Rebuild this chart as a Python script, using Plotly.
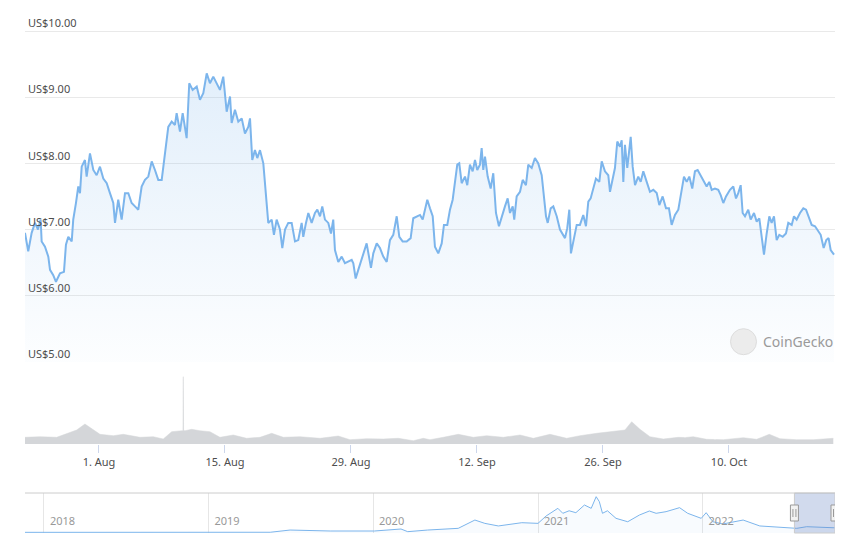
import pandas as pd
import plotly.graph_objects as go

# price in US$, time as days counted from 1 Aug 2022
price_days = [-8.22, -7.86, -7.48, -7.11, -6.78, -6.48, -6.37, -6.00, -5.63, -5.44,
              -5.08, -4.78, -4.33, -3.89, -3.67, -3.41, -3.03, -2.86, -2.56, -2.30,
              -2.11, -1.92, -1.56, -1.37, -1.00, -0.63, -0.26, 0.11, 0.48, 0.86,
              1.22, 1.59, 1.78, 2.14, 2.52, 2.89, 3.26, 3.63, 4.00, 4.37,
              4.74, 5.11, 5.48, 5.86, 6.22, 6.59, 6.97, 7.22, 7.44, 7.70,
              8.08, 8.44, 8.63, 9.00, 9.30, 9.74, 10.03, 10.41, 10.86, 11.22,
              11.59, 11.97, 12.33, 12.70, 13.26, 13.44, 13.81, 14.00, 14.19, 14.56,
              14.74, 15.11, 15.48, 15.86, 16.22, 16.59, 16.78, 17.03, 17.33, 17.59,
              17.89, 18.26, 18.56, 18.81, 19.19, 19.44, 19.74, 20.11, 20.37, 20.67,
              21.03, 21.41, 21.78, 22.14, 22.52, 22.70, 23.00, 23.26, 23.63, 24.00,
              24.26, 24.56, 24.81, 25.11, 25.48, 25.78, 26.03, 26.22, 26.59, 26.97,
              27.33, 27.70, 28.08, 28.26, 28.52, 28.81, 29.19, 29.56, 29.74, 30.00,
              30.22, 30.48, 30.86, 31.22, 31.59, 31.97, 32.33, 32.70, 33.08, 33.37,
              33.74, 34.19, 34.63, 34.92, 35.30, 35.67, 35.97, 36.22, 36.48, 36.78,
              37.08, 37.33, 37.70, 38.08, 38.33, 38.70, 39.00, 39.30, 39.56, 39.81,
              40.03, 40.30, 40.67, 40.92, 41.22, 41.52, 41.78, 42.03, 42.33, 42.52,
              42.70, 42.89, 43.19, 43.52, 43.81, 44.11, 44.44, 44.74, 45.11, 45.41,
              45.67, 45.97, 46.14, 46.41, 46.78, 47.08, 47.44, 47.70, 48.08, 48.44,
              48.81, 49.19, 49.44, 49.67, 49.86, 50.19, 50.48, 50.86, 51.22, 51.52,
              51.78, 52.03, 52.26, 52.44, 52.78, 53.08, 53.44, 53.81, 54.11, 54.37,
              54.63, 54.92, 55.22, 55.59, 55.86, 56.22, 56.59, 56.78, 57.08, 57.33,
              57.59, 57.89, 58.08, 58.26, 58.44, 58.70, 59.08, 59.30, 59.56, 59.92,
              60.19, 60.48, 60.86, 61.22, 61.59, 61.97, 62.26, 62.63, 63.00, 63.33,
              63.63, 64.00, 64.37, 64.67, 65.00, 65.30, 65.59, 65.92, 66.22, 66.52,
              66.86, 67.22, 67.52, 67.81, 68.08, 68.44, 68.81, 69.08, 69.37, 69.67,
              70.11, 70.48, 70.78, 71.03, 71.30, 71.52, 71.78, 72.14, 72.41, 72.78,
              73.08, 73.37, 73.63, 73.89, 74.19, 74.48, 74.74, 75.00, 75.30, 75.59,
              75.97, 76.33, 76.59, 76.97, 77.22, 77.52, 77.89, 78.26, 78.56, 78.92,
              79.19, 79.56, 79.92, 80.19, 80.52, 80.81, 81.07, 81.30, 81.67]
price_usd = [6.95, 6.67, 6.95, 7.10, 7.00, 7.15, 6.82, 6.74, 6.59, 6.39,
             6.31, 6.21, 6.34, 6.36, 6.77, 6.89, 6.82, 7.15, 7.40, 7.65,
             7.55, 7.95, 8.05, 7.80, 8.15, 7.90, 7.82, 7.95, 7.77, 7.70,
             7.55, 7.40, 7.10, 7.45, 7.15, 7.55, 7.55, 7.40, 7.35, 7.30,
             7.65, 7.75, 7.80, 8.03, 7.90, 7.75, 7.75, 8.00, 8.30, 8.55,
             8.63, 8.58, 8.76, 8.48, 8.76, 8.38, 9.21, 9.11, 9.16, 8.96,
             9.06, 9.36, 9.21, 9.31, 9.16, 9.11, 9.31, 9.01, 8.78, 9.01,
             8.61, 8.81, 8.63, 8.68, 8.45, 8.55, 8.68, 8.05, 8.20, 8.08,
             8.20, 8.00, 7.45, 7.10, 7.15, 6.92, 7.15, 7.00, 6.72, 7.00,
             7.10, 7.10, 6.82, 6.84, 7.10, 6.89, 7.10, 7.25, 7.10, 7.25,
             7.30, 7.20, 7.35, 7.15, 7.10, 6.94, 7.15, 6.69, 6.51, 6.59,
             6.49, 6.51, 6.54, 6.49, 6.26, 6.39, 6.57, 6.74, 6.79, 6.59,
             6.42, 6.64, 6.79, 6.72, 6.59, 6.51, 6.84, 6.92, 7.20, 6.89,
             6.82, 6.82, 6.87, 7.17, 7.20, 7.22, 7.15, 7.32, 7.45, 7.32,
             7.20, 6.74, 6.64, 6.79, 7.07, 7.07, 7.30, 7.45, 7.70, 7.98,
             8.00, 7.70, 7.80, 7.67, 7.98, 7.88, 8.05, 7.90, 7.98, 8.23,
             7.90, 8.10, 7.80, 7.62, 7.85, 7.25, 7.05, 7.20, 7.35, 7.47,
             7.25, 7.35, 7.15, 7.50, 7.57, 7.75, 7.67, 7.98, 7.93, 8.08,
             8.00, 7.82, 7.50, 7.20, 7.10, 7.32, 7.35, 7.20, 7.00, 6.92,
             6.87, 7.02, 7.30, 6.64, 6.89, 7.07, 7.07, 7.22, 7.05, 7.42,
             7.47, 7.62, 7.77, 7.72, 8.03, 7.88, 7.82, 7.57, 7.80, 7.93,
             8.33, 8.25, 8.35, 7.72, 8.28, 7.93, 8.40, 7.95, 7.67, 7.80,
             7.72, 7.88, 7.72, 7.57, 7.60, 7.55, 7.37, 7.50, 7.32, 7.32,
             7.07, 7.22, 7.30, 7.57, 7.80, 7.72, 7.80, 7.62, 7.88, 7.90,
             7.82, 7.72, 7.65, 7.72, 7.60, 7.62, 7.60, 7.52, 7.40, 7.50,
             7.60, 7.65, 7.47, 7.55, 7.67, 7.25, 7.20, 7.30, 7.15, 7.25,
             7.12, 7.17, 6.87, 6.62, 6.94, 7.20, 7.10, 7.20, 6.84, 6.92,
             6.89, 6.94, 7.10, 7.07, 7.20, 7.15, 7.25, 7.32, 7.30, 7.17,
             7.07, 7.05, 6.97, 6.92, 6.72, 6.84, 6.87, 6.69, 6.62]

# trading volume, million US$ (same day scale)
vol_days = [-8.22, -6.56, -4.70, -3.59, -2.48, -1.56, -0.81, 0.11, 1.59, 2.70,
            4.56, 6.03, 7.14, 8.08, 9.19, 9.33, 9.37, 9.40, 9.56, 10.30,
            11.22, 12.33, 13.44, 14.92, 16.41, 17.89, 19.19, 20.48, 22.33, 24.56,
            26.59, 27.89, 29.74, 31.59, 33.26, 34.92, 36.03, 36.78, 38.26, 39.92,
            41.59, 43.08, 44.92, 46.78, 48.26, 50.11, 51.97, 53.44, 55.30, 57.14,
            58.44, 59.19, 60.11, 61.22, 62.70, 64.37, 65.06, 65.12, 65.17, 66.03,
            67.52, 68.39, 68.45, 68.50, 69.37, 71.59, 73.08, 74.48, 75.67, 77.52,
            79.37, 81.59]
vol_musd = [6.7, 7.3, 6.7, 10.0, 14.0, 20.0, 15.7, 9.7, 8.3, 9.7,
            6.7, 7.3, 5.0, 12.3, 13.3, 13.3, 67.3, 13.5, 13.3, 14.7,
            13.3, 12.3, 6.7, 9.0, 5.7, 6.7, 10.7, 6.7, 7.3, 5.7,
            8.0, 4.3, 5.3, 5.0, 5.7, 3.3, 5.7, 4.3, 6.7, 9.7,
            6.7, 8.3, 6.7, 9.0, 5.7, 9.7, 5.7, 8.3, 10.7, 12.3,
            14.0, 22.3, 14.7, 7.3, 5.0, 6.7, 6.5, None, 6.5, 7.3,
            4.7, 4.5, None, 4.5, 4.3, 6.3, 4.7, 9.7, 5.3, 4.3,
            4.3, 5.7]

# full history for the navigator
hist_dates = ["2017-11-20", "2018-04-26", "2018-12-06", "2019-05-18", "2019-07-01",
              "2019-09-28", "2020-01-04", "2020-03-03", "2020-03-18", "2020-05-01",
              "2020-07-08", "2020-08-14", "2020-09-05", "2020-10-05", "2020-11-26",
              "2021-01-01", "2021-01-19", "2021-02-14", "2021-02-25", "2021-03-11",
              "2021-03-26", "2021-04-14", "2021-04-29", "2021-05-10", "2021-05-17",
              "2021-05-24", "2021-06-04", "2021-06-23", "2021-07-19", "2021-08-14",
              "2021-09-05", "2021-09-20", "2021-10-12", "2021-11-11", "2021-11-29",
              "2021-12-18", "2021-12-29", "2022-01-09", "2022-01-24", "2022-02-15",
              "2022-04-01", "2022-05-08", "2022-06-22", "2022-07-29", "2022-08-20",
              "2022-10-21"]
hist_usd = [0.9, 0.9, 0.8, 1.0, 4.0, 2.7, 2.7, 5.4, 1.8, 4.0,
            6.3, 17.5, 13.0, 9.5, 13.9, 13.0, 23.0, 33.3, 26.6, 30.0,
            27.4, 37.8, 33.3, 49.0, 42.3, 26.6, 30.0, 19.8, 15.2, 24.3,
            29.7, 26.6, 28.8, 34.2, 26.6, 22.0, 19.8, 27.4, 15.2, 12.2,
            17.5, 9.5, 7.2, 6.3, 8.5, 7.0]

day0 = pd.Timestamp("2022-08-01")
price_time = day0 + pd.to_timedelta(price_days, unit="D")
vol_time = day0 + pd.to_timedelta(vol_days, unit="D")
view_start = day0 + pd.Timedelta(days=-8.22)
view_end = day0 + pd.Timedelta(days=81.78)

blue = "#7cb5ec"
font = "Noto Sans"

fig = go.Figure()

fig.add_trace(go.Scatter(
    x=price_time, y=price_usd, mode="lines",
    line=dict(color=blue, width=2),
    fill="tozeroy",
    fillgradient=dict(type="vertical", start=5, stop=9.4,
                      colorscale=[[0, "rgba(124,181,236,0.02)"],
                                  [1, "rgba(124,181,236,0.22)"]]),
    xaxis="x", yaxis="y", hoverinfo="skip",
))

fig.add_trace(go.Scatter(
    x=vol_time, y=vol_musd, mode="lines", connectgaps=False,
    line=dict(color="#d4d6d9", width=0.5),
    fill="tozeroy", fillcolor="#d4d6d9",
    xaxis="x", yaxis="y2", hoverinfo="skip",
))

fig.add_trace(go.Scatter(
    x=pd.to_datetime(hist_dates), y=hist_usd, mode="lines",
    line=dict(color=blue, width=1),
    fill="tozeroy", fillcolor="rgba(124,181,236,0.05)",
    xaxis="x3", yaxis="y3", hoverinfo="skip",
))

H = 537.0


def band(top, bottom):
    return [1 - bottom / H, 1 - top / H]


fig.update_layout(
    width=851, height=537,
    margin=dict(l=25, r=16, t=0, b=0),
    paper_bgcolor="white", plot_bgcolor="white",
    showlegend=False,
    font=dict(family=font, size=11, color="#4d4d4d"),
    xaxis=dict(
        range=[view_start, view_end], anchor="y2", domain=[0, 1],
        tick0="2022-08-01", dtick=14 * 86400000, tickformat="%-d. %b",
        ticks="outside", ticklen=8, tickcolor="#ccd6eb",
        showgrid=False, showline=False, zeroline=False,
        tickfont=dict(size=11, color="#4d4d4d"),
    ),
    # extra headroom above the 10 line keeps its inside label visible
    yaxis=dict(
        domain=band(14, 362), range=[4.998, 10.257], dtick=1,
        tickprefix="US$", tickformat=".2f",
        ticklabelposition="inside top",
        gridcolor="#e9e9e9", showline=False, zeroline=False,
        tickfont=dict(size=11, color="#4d4d4d"),
    ),
    yaxis2=dict(
        domain=band(376, 444), range=[0, 68],
        showticklabels=False, showgrid=False, zeroline=False,
    ),
    xaxis3=dict(
        range=[pd.Timestamp("2017-11-20"), view_end], anchor="y3",
        tick0="2018-01-01", dtick="M12", tickformat="%Y",
        ticklabelposition="inside right", ticks="", ticklabelshift=6,
        showgrid=True, gridcolor="#e6e6e6", showline=False, zeroline=False,
        tickfont=dict(size=11, color="#999999"),
    ),
    yaxis3=dict(
        domain=band(493, 533), range=[0, 54],
        showticklabels=False, showgrid=False, zeroline=False,
    ),
)

shapes = [
    # navigator outline on top
    dict(type="line", xref="paper", yref="y3 domain", x0=0, x1=1, y0=1, y1=1,
         line=dict(color="#cccccc", width=1)),
    # navigator selected window
    dict(type="rect", xref="x3", yref="y3 domain", x0=view_start, x1=view_end,
         y0=0, y1=1, fillcolor="rgba(102,133,194,0.3)",
         line=dict(color="#cccccc", width=1), layer="above"),
    # CoinGecko logo circle
    dict(type="circle", xref="paper", yref="paper",
         x0=(730.5 - 25) / 810, x1=(756.5 - 25) / 810,
         y0=1 - 354.7 / H, y1=1 - 328.7 / H,
         fillcolor="#ececec", line=dict(color="#dddddd", width=1)),
]
for edge in [view_start, view_end]:
    shapes.append(dict(type="rect", xref="x3", yref="y3 domain",
                       xsizemode="pixel", ysizemode="pixel",
                       xanchor=edge, yanchor=0.5, x0=-4, x1=4, y0=-8, y1=8,
                       fillcolor="#f2f2f2", line=dict(color="#999999", width=1),
                       layer="above"))
    for off in [-1.5, 1.5]:
        shapes.append(dict(type="line", xref="x3", yref="y3 domain",
                           xsizemode="pixel", ysizemode="pixel",
                           xanchor=edge, yanchor=0.5, x0=off, x1=off, y0=-4, y1=4,
                           line=dict(color="#999999", width=1), layer="above"))
fig.update_layout(shapes=shapes)

fig.add_annotation(
    text="CoinGecko", xref="paper", yref="paper",
    x=(761 - 25) / 810, y=1 - 341.7 / H, xanchor="left", yanchor="middle",
    showarrow=False, font=dict(family=font, size=14, color="#9a9a9a"),
)

# page body has an 8px margin by default, drop it so the chart sits at 0,0
fig.write_html("out.html", config={"displayModeBar": False},
               post_script="document.body.style.margin='0';")
